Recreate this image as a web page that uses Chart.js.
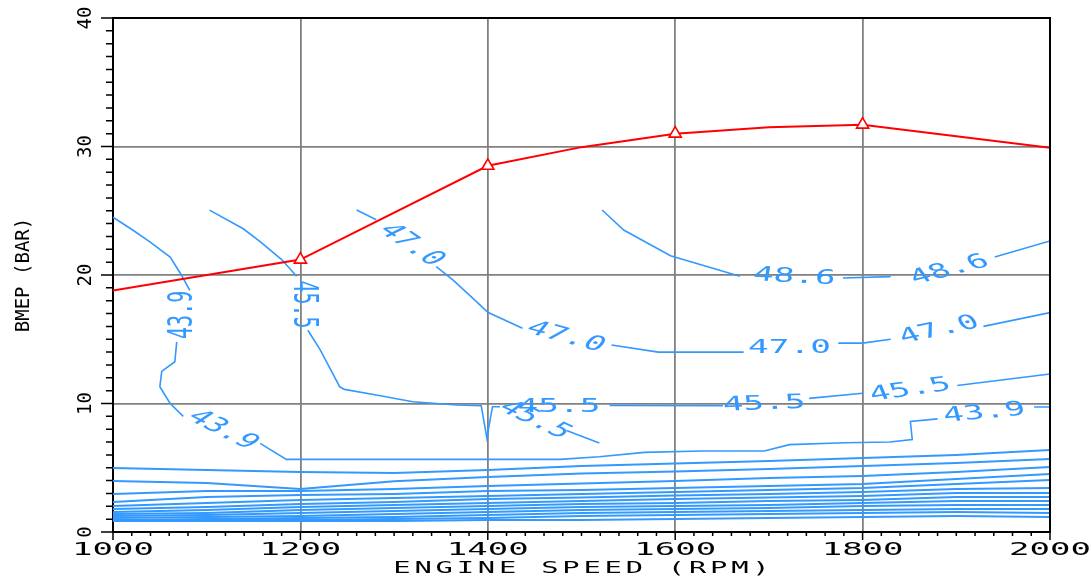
<!DOCTYPE html>
<html>
<head>
<meta charset="utf-8">
<script src="https://cdn.jsdelivr.net/npm/chart.js@4.4.1/dist/chart.umd.min.js"></script>
<style>
  html, body { margin: 0; padding: 0; background: #fff; }
  #wrap { width: 1091px; height: 576px; }
</style>
</head>
<body>
<div id="wrap"><canvas id="bmepChart"></canvas></div>
<script>
// axis labels
const speedTicks = [1000, 1200, 1400, 1600, 1800, 2000];
const bmepTicks = [0, 10, 20, 30, 40];

// full load curve (red), triangles only at the measured speeds
const torqueSpeed = [1000, 1200, 1400, 1500, 1600, 1700, 1800, 1900, 2000];
const torqueBmep = [18.8, 21.2, 28.5, 29.95, 31.0, 31.5, 31.7, 30.8, 29.9];
const markedSpeed = [1200, 1400, 1600, 1800];

// efficiency contours, null = break for the inline label
const c439Speed = [1000, 1021, 1039, 1061, 1073, 1082, null, 1068, 1066, 1052, 1050, 1061, 1075, null,
  1157, 1185, 1477, 1519, 1567, 1628, 1695, 1722, 1781, 1829, 1853, 1851, 1880, null, 1983, 2000];
const c439Bmep = [24.5, 23.5, 22.6, 21.4, 20.0, 18.8, null, 14.8, 13.25, 12.5, 11.3, 10.0, 9.0, null,
  6.9, 5.65, 5.65, 5.85, 6.2, 6.3, 6.3, 6.8, 6.95, 7.0, 7.2, 8.6, 8.8, null, 9.73, 9.73];

const c455Speed = [1103, 1139, 1157, 1180, 1196, null, 1208, 1221, 1242, 1247, 1281, 1320, 1367, 1393, 1399, 1405, 1413, null,
  1530, 1651, null, 1743, 1800, null, 1901, 2000];
const c455Bmep = [25.05, 23.6, 22.6, 21.2, 19.9, null, 15.7, 14.2, 11.3, 11.1, 10.66, 10.14, 9.88, 9.82, 7.3, 9.75, 9.75, null,
  9.85, 9.82, null, 10.4, 10.8, null, 11.4, 12.3];
const c455bSpeed = [1484, 1519];
const c455bBmep = [7.9, 6.93];

const c470Speed = [1260, 1281, null, 1345, 1363, 1381, 1400, 1437, null, 1532, 1582, 1673, null, 1774, 1800, 1830, null, 1929, 2000];
const c470Bmep = [25.06, 24.3, null, 20.65, 19.6, 18.4, 17.1, 15.85, null, 14.55, 14.0, 14.0, null, 14.7, 14.7, 15.0, null, 16.0, 17.07];

const c486Speed = [1522, 1545, 1595, 1669, null, 1779, 1830, null, 1941, 2000];
const c486Bmep = [25.06, 23.5, 21.5, 19.9, null, 19.77, 19.87, null, 21.4, 22.65];

// low load band (unlabelled contours)
const bandSpeed = [1000, 1100, 1200, 1300, 1400, 1500, 1600, 1700, 1800, 1900, 2000];
const band01 = [4.98, 4.82, 4.67, 4.59, 4.82, 5.14, 5.33, 5.53, 5.76, 5.99, 6.38];
const band02 = [3.97, 3.81, 3.35, 3.95, 4.28, 4.55, 4.71, 4.90, 5.14, 5.37, 5.68];
const band03 = [2.96, 3.19, 3.19, 3.35, 3.58, 3.77, 3.97, 4.20, 4.36, 4.67, 5.06];
const band04 = [2.33, 2.72, 2.88, 2.96, 3.19, 3.27, 3.42, 3.58, 3.74, 4.12, 4.51];
const band05 = [2.02, 2.26, 2.49, 2.65, 2.80, 2.96, 3.11, 3.27, 3.42, 3.74, 4.05];
const band06 = [1.79, 1.95, 2.18, 2.33, 2.57, 2.68, 2.84, 2.96, 3.11, 3.35, 3.42];
const band07 = [1.56, 1.71, 1.95, 2.10, 2.26, 2.41, 2.57, 2.68, 2.80, 3.03, 3.03];
const band08 = [1.40, 1.48, 1.71, 1.87, 2.02, 2.18, 2.26, 2.41, 2.49, 2.72, 2.72];
const band09 = [1.25, 1.32, 1.48, 1.63, 1.79, 1.95, 2.02, 2.10, 2.26, 2.41, 2.41];
const band10 = [1.09, 1.17, 1.25, 1.40, 1.56, 1.71, 1.79, 1.87, 2.02, 2.10, 2.10];
const band11 = [0.93, 1.01, 1.09, 1.17, 1.32, 1.48, 1.56, 1.63, 1.71, 1.79, 1.79];
const band12 = [0.86, 0.93, 0.93, 1.01, 1.09, 1.25, 1.32, 1.40, 1.48, 1.56, 1.48];
const band13 = [0.86, 0.86, 0.86, 0.86, 0.93, 0.93, 1.01, 1.09, 1.17, 1.25, 1.17];

// contour labels
const labelText = ['43.9', '43.9', '43.9', '45.5', '45.5', '45.5', '45.5', '45.5', '47.0', '47.0', '47.0', '47.0', '48.6', '48.6'];
const labelSpeed = [1075, 1117, 1930, 1203, 1476, 1450, 1695, 1851, 1318, 1483, 1722, 1882, 1727, 1893];
const labelBmep = [16.9, 7.94, 9.26, 17.7, 9.73, 8.72, 9.96, 11.05, 22.33, 15.17, 14.32, 15.72, 19.84, 20.39];
const labelAngle = [-90, 27, -5, 90, 0, 25, -2, -8, 34, 15, 0, -12, 3, -14];

const blue = '#3399ff';
const gridGray = '#808080';
const mono = "'DejaVu Sans Mono', monospace";
const wide = 1.72; // the plotter font is stretched sideways on screen

function pairs(xs, ys) {
  return xs.map((v, i) => ({ x: v, y: ys[i] }));
}

const contourLines = [
  [c439Speed, c439Bmep], [c455Speed, c455Bmep], [c455bSpeed, c455bBmep],
  [c470Speed, c470Bmep], [c486Speed, c486Bmep]
];
const bandLines = [band01, band02, band03, band04, band05, band06, band07, band08, band09, band10, band11, band12, band13];

const datasets = [{
  data: pairs(torqueSpeed, torqueBmep),
  borderColor: '#ff0000',
  borderWidth: 2,
  tension: 0,
  pointStyle: 'triangle',
  pointRadius: c => markedSpeed.includes(torqueSpeed[c.dataIndex]) ? 7 : 0,
  pointBorderColor: '#ff0000',
  pointBackgroundColor: '#ffffff',
  pointBorderWidth: 1.6,
  order: -1
}];
contourLines.forEach(([xs, ys]) => {
  datasets.push({ data: pairs(xs, ys), borderColor: blue, borderWidth: 1.6, pointRadius: 0, tension: 0 });
});
bandLines.forEach(ys => {
  datasets.push({ data: pairs(bandSpeed, ys), borderColor: blue, borderWidth: 2, pointRadius: 0, tension: 0 });
});

const contourText = {
  id: 'contourText',
  afterDatasetsDraw(chart) {
    const { ctx, scales: { x, y } } = chart;
    ctx.save();
    ctx.fillStyle = blue;
    ctx.font = '20px ' + mono;
    ctx.textAlign = 'center';
    ctx.textBaseline = 'middle';
    labelText.forEach((t, i) => {
      const a = labelAngle[i] * Math.PI / 180;
      ctx.save();
      ctx.translate(x.getPixelForValue(labelSpeed[i]), y.getPixelForValue(labelBmep[i]));
      ctx.scale(wide, 1);
      ctx.rotate(Math.atan2(wide * Math.sin(a), Math.cos(a)));
      ctx.fillText(t, 0, 0);
      ctx.restore();
    });
    ctx.restore();
  }
};

const frame = {
  id: 'frame',
  afterDraw(chart) {
    const { ctx, chartArea: a, scales: { x, y } } = chart;
    ctx.save();
    ctx.strokeStyle = '#000';
    ctx.lineWidth = 1.5;
    ctx.beginPath();
    y.ticks.forEach(t => {
      const py = y.getPixelForValue(t.value);
      const len = bmepTicks.includes(t.value) ? 12 : 7;
      ctx.moveTo(a.left - len, py);
      ctx.lineTo(a.left, py);
    });
    x.ticks.forEach(t => {
      const px = x.getPixelForValue(t.value);
      const len = speedTicks.includes(t.value) ? 8 : 4;
      ctx.moveTo(px, a.bottom);
      ctx.lineTo(px, a.bottom + len);
    });
    ctx.stroke();

    ctx.lineWidth = 2;
    ctx.beginPath();
    ctx.moveTo(a.left, a.top);
    ctx.lineTo(a.right, a.top);
    ctx.lineTo(a.right, a.bottom);
    ctx.stroke();

    ctx.fillStyle = '#000';
    ctx.textAlign = 'center';
    ctx.textBaseline = 'middle';
    ctx.font = '17px ' + mono;
    speedTicks.forEach(v => {
      ctx.save();
      ctx.translate(x.getPixelForValue(v), 551);
      ctx.scale(2.0, 1);
      ctx.fillText(String(v), 0, 0);
      ctx.restore();
    });

    ctx.font = '16px ' + mono;
    ctx.letterSpacing = '2.1px';
    ctx.save();
    ctx.translate((a.left + a.right) / 2, 569);
    ctx.scale(1.8, 1);
    ctx.fillText('ENGINE SPEED (RPM)', 1.05, 0);
    ctx.restore();
    ctx.restore();
  }
};

new Chart(document.getElementById('bmepChart'), {
  type: 'line',
  data: { datasets },
  options: {
    responsive: true,
    maintainAspectRatio: false,
    animation: false,
    events: [],
    layout: { padding: { top: 18, right: 41, left: 0, bottom: 0 } },
    plugins: { legend: { display: false }, tooltip: { enabled: false } },
    scales: {
      x: {
        type: 'linear',
        min: 1000,
        max: 2000,
        afterFit(s) { s.height = 44; s.paddingLeft = 0; s.paddingRight = 0; },
        border: { color: '#000', width: 2 },
        grid: {
          drawTicks: false,
          lineWidth: 1.8,
          color: c => (c.tick && speedTicks.includes(c.tick.value)) ? gridGray : 'rgba(0,0,0,0)'
        },
        ticks: { stepSize: 20, autoSkip: false, display: false }
      },
      y: {
        min: 0,
        max: 40,
        afterFit(s) { s.width = 113; s.paddingTop = 0; s.paddingBottom = 0; },
        border: { color: '#000', width: 2 },
        grid: {
          drawTicks: false,
          lineWidth: 1.8,
          color: c => (c.tick && bmepTicks.includes(c.tick.value)) ? gridGray : 'rgba(0,0,0,0)'
        },
        ticks: {
          stepSize: 1,
          autoSkip: false,
          minRotation: 90,
          maxRotation: 90,
          crossAlign: 'center',
          padding: 15,
          color: '#000',
          font: { family: mono, size: 19 },
          callback: v => bmepTicks.includes(v) ? String(v) : ''
        },
        title: {
          display: true,
          text: 'BMEP (BAR)',
          color: '#000',
          font: { family: mono, size: 19 },
          padding: { top: 13, bottom: 0 }
        }
      }
    }
  },
  plugins: [contourText, frame]
});
</script>
</body>
</html>
